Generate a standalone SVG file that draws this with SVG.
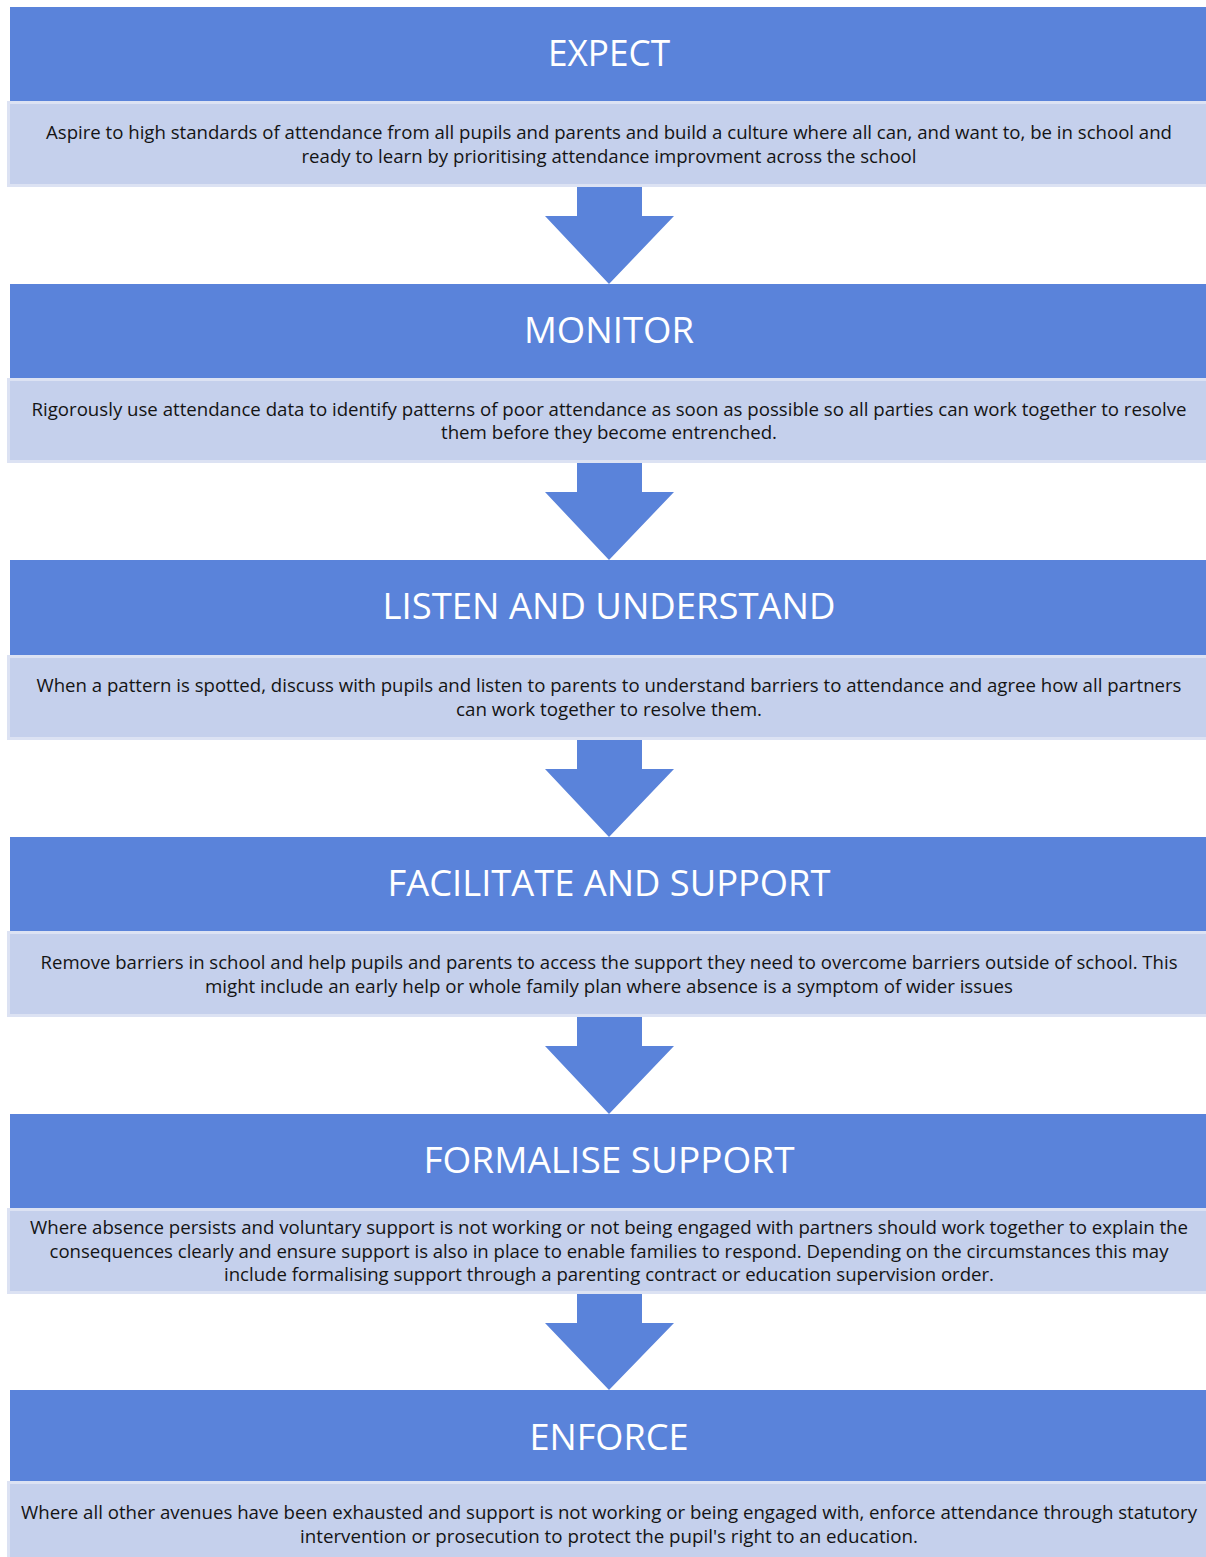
<svg xmlns="http://www.w3.org/2000/svg" width="1206" height="1557" viewBox="0 0 1206 1557">
<style>
.hdr{fill:#5A83DA}
.box{fill:#C5D0EC;stroke:#DCE2F3;stroke-width:3}
.ttl{font-family:"Open Sans","Liberation Sans",sans-serif;font-size:37px;fill:#FFFFFF;text-anchor:middle}
.txt{font-family:"Open Sans","Liberation Sans",sans-serif;font-size:18.5px;fill:#141414;text-anchor:middle}
.arr{fill:#5A83DA}
</style>
<rect width="1206" height="1557" fill="#FFFFFF"/>
<g id="connectors">
<polygon class="arr" points="577,187 642,187 642,216 674,216 609,284 545,216 577,216"/>
<polygon class="arr" points="577,463 642,463 642,492 674,492 609,560 545,492 577,492"/>
<polygon class="arr" points="577,740 642,740 642,769 674,769 609,837 545,769 577,769"/>
<polygon class="arr" points="577,1017 642,1017 642,1046 674,1046 609,1114 545,1046 577,1046"/>
<polygon class="arr" points="577,1294 642,1294 642,1323 674,1323 609,1390 545,1323 577,1323"/>
</g>
<g id="expect">
<rect class="box" x="8.5" y="102.5" width="1210" height="83"/>
<rect class="hdr" x="10" y="7" width="1200" height="94"/>
<text class="ttl" x="609" y="66" textLength="122" lengthAdjust="spacingAndGlyphs">EXPECT</text>
<text class="txt" x="609" y="138.5" textLength="1126" lengthAdjust="spacingAndGlyphs">Aspire to high standards of attendance from all pupils and parents and build a culture where all can, and want to, be in school and</text>
<text class="txt" x="609" y="162.5" textLength="615" lengthAdjust="spacingAndGlyphs">ready to learn by prioritising attendance improvment across the school</text>
</g>
<g id="monitor">
<rect class="box" x="8.5" y="379.5" width="1210" height="82"/>
<rect class="hdr" x="10" y="284" width="1200" height="94"/>
<text class="ttl" x="609" y="343" textLength="170" lengthAdjust="spacingAndGlyphs">MONITOR</text>
<text class="txt" x="609" y="415.5" textLength="1155" lengthAdjust="spacingAndGlyphs">Rigorously use attendance data to identify patterns of poor attendance as soon as possible so all parties can work together to resolve</text>
<text class="txt" x="609" y="438.5" textLength="336" lengthAdjust="spacingAndGlyphs">them before they become entrenched.</text>
</g>
<g id="listen">
<rect class="box" x="8.5" y="656.5" width="1210" height="82"/>
<rect class="hdr" x="10" y="560" width="1200" height="95"/>
<text class="ttl" x="609" y="619" textLength="453" lengthAdjust="spacingAndGlyphs">LISTEN AND UNDERSTAND</text>
<text class="txt" x="609" y="691.5" textLength="1145" lengthAdjust="spacingAndGlyphs">When a pattern is spotted, discuss with pupils and listen to parents to understand barriers to attendance and agree how all partners</text>
<text class="txt" x="609" y="715.5" textLength="306" lengthAdjust="spacingAndGlyphs">can work together to resolve them.</text>
</g>
<g id="facilitate">
<rect class="box" x="8.5" y="932.5" width="1210" height="83"/>
<rect class="hdr" x="10" y="837" width="1200" height="94"/>
<text class="ttl" x="609" y="896" textLength="443" lengthAdjust="spacingAndGlyphs">FACILITATE AND SUPPORT</text>
<text class="txt" x="609" y="968.5" textLength="1137" lengthAdjust="spacingAndGlyphs">Remove barriers in school and help pupils and parents to access the support they need to overcome barriers outside of school. This</text>
<text class="txt" x="609" y="992.5" textLength="808" lengthAdjust="spacingAndGlyphs">might include an early help or whole family plan where absence is a symptom of wider issues</text>
</g>
<g id="formalise">
<rect class="box" x="8.5" y="1209.5" width="1210" height="83"/>
<rect class="hdr" x="10" y="1114" width="1200" height="94"/>
<text class="ttl" x="609" y="1173" textLength="371" lengthAdjust="spacingAndGlyphs">FORMALISE SUPPORT</text>
<text class="txt" x="609" y="1233.5" textLength="1158" lengthAdjust="spacingAndGlyphs">Where absence persists and voluntary support is not working or not being engaged with partners should work together to explain the</text>
<text class="txt" x="609" y="1257.5" textLength="1119" lengthAdjust="spacingAndGlyphs">consequences clearly and ensure support is also in place to enable families to respond. Depending on the circumstances this may</text>
<text class="txt" x="609" y="1280.5" textLength="770" lengthAdjust="spacingAndGlyphs">include formalising support through a parenting contract or education supervision order.</text>
</g>
<g id="enforce">
<rect class="box" x="8.5" y="1482.5" width="1210" height="90"/>
<rect class="hdr" x="10" y="1390" width="1200" height="91"/>
<text class="ttl" x="609" y="1450" textLength="159" lengthAdjust="spacingAndGlyphs">ENFORCE</text>
<text class="txt" x="609" y="1518.5" textLength="1176" lengthAdjust="spacingAndGlyphs">Where all other avenues have been exhausted and support is not working or being engaged with, enforce attendance through statutory</text>
<text class="txt" x="609" y="1542.5" textLength="618" lengthAdjust="spacingAndGlyphs">intervention or prosecution to protect the pupil's right to an education.</text>
</g>
</svg>
